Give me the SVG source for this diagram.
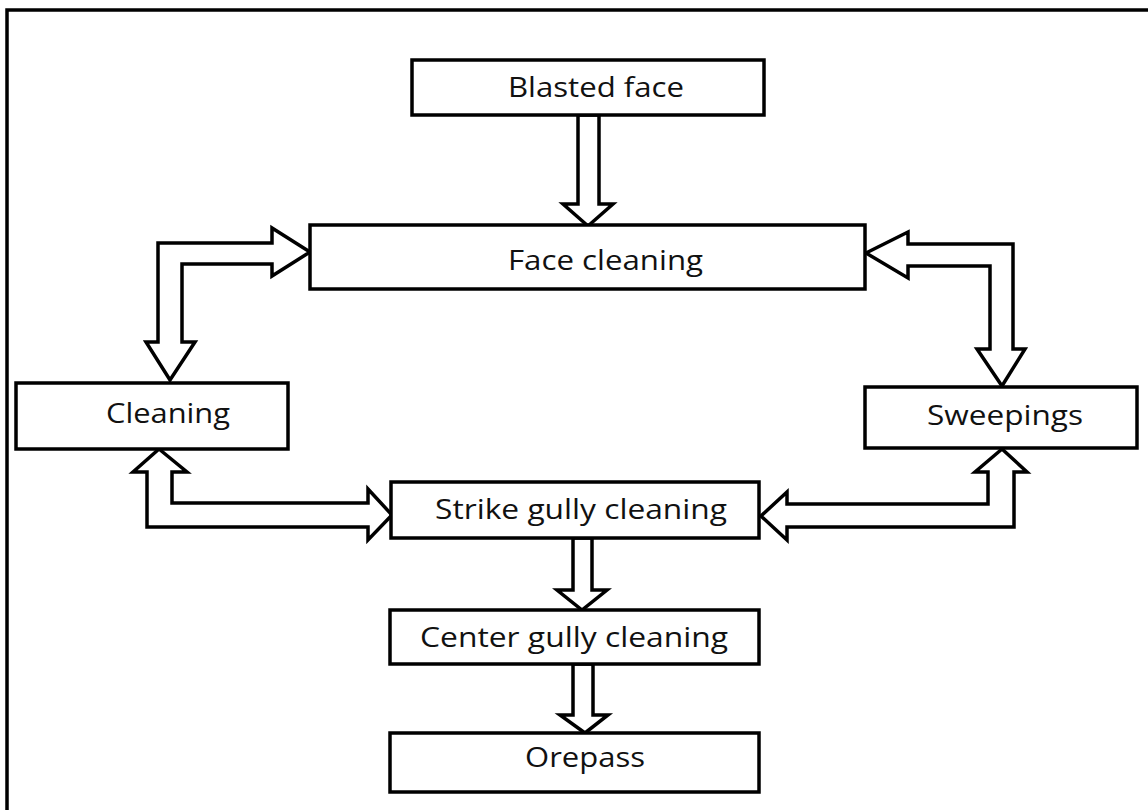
<svg xmlns="http://www.w3.org/2000/svg" width="1148" height="810" viewBox="0 0 1148 810">
<style>
.box{fill:#fff;stroke:#000;stroke-width:3.5}
.arr{fill:#fff;stroke:#000;stroke-width:3.5;stroke-linejoin:miter}
.lbl{font-family:"Open Sans","Liberation Sans",sans-serif;font-size:28px;fill:#111}
</style>
<rect width="1148" height="810" fill="#fff"/>
<path d="M7,812 V10 H1150" fill="none" stroke="#000" stroke-width="3.5"/>
<g id="connectors">
<polygon class="arr" points="578,115 578,204 563,204 588,226 613,204 599,204 599,115"/>
<polygon class="arr" points="310,252 272,228 272,243 158,243 158,342 146,342 170,380 195,342 182,342 182,264 272,264 272,276"/>
<polygon class="arr" points="866,253 908,232 908,244 1013,244 1013,349 1025,349 1002,386 977,349 990,349 990,266 908,266 908,278"/>
<polygon class="arr" points="159,449 187,472 172,472 172,503 368,503 368,489 392,515 368,540 368,527 147,527 147,472 133,472"/>
<polygon class="arr" points="1002,449 1027,472 1014,472 1014,527 787,527 787,540 761,516 787,492 787,504 988,504 988,472 975,472"/>
<polygon class="arr" points="573,538 573,590 557,590 582,610 607,590 592,590 592,538"/>
<polygon class="arr" points="573,664 573,715 560,715 585,733 608,715 593,715 593,664"/>
</g>
<g id="blasted-face"><rect class="box" x="412" y="60" width="352" height="55"/><text class="lbl" x="508" y="97" textLength="176" lengthAdjust="spacingAndGlyphs">Blasted face</text></g>
<g id="face-cleaning"><rect class="box" x="310" y="225" width="555" height="64"/><text class="lbl" x="508" y="270" textLength="195" lengthAdjust="spacingAndGlyphs">Face cleaning</text></g>
<g id="cleaning"><rect class="box" x="16" y="383" width="272" height="66"/><text class="lbl" x="106" y="423" textLength="124" lengthAdjust="spacingAndGlyphs">Cleaning</text></g>
<g id="sweepings"><rect class="box" x="865" y="387" width="272" height="61"/><text class="lbl" x="927" y="425" textLength="156" lengthAdjust="spacingAndGlyphs">Sweepings</text></g>
<g id="strike-gully-cleaning"><rect class="box" x="391" y="482" width="368" height="56"/><text class="lbl" x="435" y="519" textLength="292" lengthAdjust="spacingAndGlyphs">Strike gully cleaning</text></g>
<g id="center-gully-cleaning"><rect class="box" x="390" y="610" width="369" height="54"/><text class="lbl" x="420" y="647" textLength="308" lengthAdjust="spacingAndGlyphs">Center gully cleaning</text></g>
<g id="orepass"><rect class="box" x="390" y="733" width="369" height="59"/><text class="lbl" x="525" y="767" textLength="120" lengthAdjust="spacingAndGlyphs">Orepass</text></g>
</svg>
